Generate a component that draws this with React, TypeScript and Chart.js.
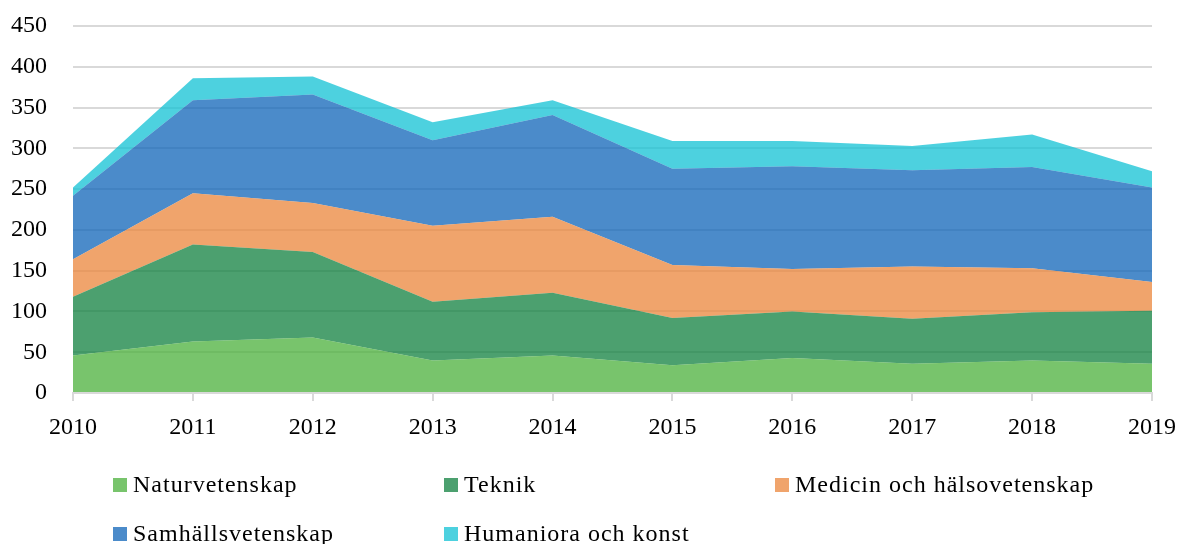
import React, { useEffect, useRef } from "react";
import { Chart, registerables } from "chart.js";

Chart.register(...registerables);

const years = ["2010", "2011", "2012", "2013", "2014", "2015", "2016", "2017", "2018", "2019"];
const naturvetenskap = [46, 63, 68, 40, 46, 34, 43, 36, 40, 36];
const teknik = [72, 119, 105, 72, 77, 58, 57, 55, 59, 65];
const medicin = [46, 63, 60, 93, 93, 65, 52, 64, 54, 35];
const samhallsvetenskap = [78, 114, 133, 105, 125, 118, 126, 118, 124, 116];
const humaniora = [10, 27, 22, 22, 18, 34, 31, 30, 40, 20];

const seriesNames = [
  "Naturvetenskap",
  "Teknik",
  "Medicin och hälsovetenskap",
  "Samhällsvetenskap",
  "Humaniora och konst",
];
// Opaque colours (as seen on white) for the legend swatches
const seriesColors = ["#78c46c", "#4ca06f", "#f0a46c", "#4b8bca", "#4dd1df"];
// Semi-transparent fills that give the same colour on white, letting grid lines show through
const seriesFills = [
  "rgba(75,176,59,0.75)",
  "rgba(16,128,63,0.75)",
  "rgba(235,134,59,0.75)",
  "rgba(15,100,184,0.75)",
  "rgba(18,194,212,0.75)",
];
const seriesValues = [naturvetenskap, teknik, medicin, samhallsvetenskap, humaniora];

const FONT = "'Liberation Serif', 'Times New Roman', serif";

const legendPositions = [
  { left: 113, top: 472 },
  { left: 444, top: 472 },
  { left: 775, top: 472 },
  { left: 113, top: 521 },
  { left: 444, top: 521 },
];

export default function App() {
  const canvasRef = useRef<HTMLCanvasElement | null>(null);

  useEffect(() => {
    if (!canvasRef.current) return;
    const chart = new Chart(canvasRef.current, {
      type: "line",
      data: {
        labels: years,
        datasets: seriesNames.map((name, i) => ({
          label: name,
          data: seriesValues[i],
          backgroundColor: seriesFills[i],
          borderColor: seriesFills[i],
          borderWidth: 0,
          pointRadius: 0,
          fill: i === 0 ? "origin" : "-1",
          tension: 0,
        })),
      },
      options: {
        animation: false,
        responsive: false,
        maintainAspectRatio: false,
        layout: { padding: { top: 26, right: 27, bottom: 0, left: 0 } },
        plugins: {
          legend: { display: false },
          tooltip: { enabled: false },
        },
        scales: {
          x: {
            offset: false,
            grid: {
              drawOnChartArea: false,
              drawTicks: true,
              tickLength: 8,
              color: "#d9d9d9",
              lineWidth: 2,
            },
            border: { display: true, color: "#d9d9d9", width: 2, z: 1 },
            ticks: {
              font: { family: FONT, size: 24 },
              color: "#000",
              padding: 12,
              maxRotation: 0,
            },
            afterFit: (scale: any) => {
              scale.height = 151;
              scale.paddingLeft = 0;
              scale.paddingRight = 0;
            },
          },
          y: {
            stacked: true,
            min: 0,
            max: 450,
            ticks: {
              stepSize: 50,
              font: { family: FONT, size: 24 },
              color: "#000",
              padding: 26,
            },
            grid: {
              drawTicks: false,
              color: "#d9d9d9",
              lineWidth: 2,
            },
            border: { display: false },
            afterFit: (scale: any) => {
              scale.width = 73;
              scale.paddingTop = 0;
              scale.paddingBottom = 0;
            },
          },
        },
      },
    });
    return () => chart.destroy();
  }, []);

  return (
    <div
      style={{
        position: "fixed",
        left: 0,
        top: 0,
        width: 1179,
        height: 544,
        background: "#fff",
        overflow: "hidden",
      }}
    >
      <canvas
        ref={canvasRef}
        width={1179}
        height={544}
        style={{ position: "absolute", left: 0, top: 0, width: 1179, height: 544 }}
      />
      {seriesNames.map((name, i) => (
        <div
          key={name}
          style={{
            position: "absolute",
            left: legendPositions[i].left,
            top: legendPositions[i].top,
            height: 24,
            display: "flex",
            alignItems: "flex-start",
            whiteSpace: "nowrap",
          }}
        >
          <span
            style={{
              display: "inline-block",
              width: 14,
              height: 14,
              marginTop: 6,
              background: seriesColors[i],
            }}
          />
          <span
            style={{
              marginLeft: 6,
              fontFamily: FONT,
              fontSize: 24,
              lineHeight: "24px",
              letterSpacing: "1px",
              color: "#000",
            }}
          >
            {name}
          </span>
        </div>
      ))}
    </div>
  );
}
